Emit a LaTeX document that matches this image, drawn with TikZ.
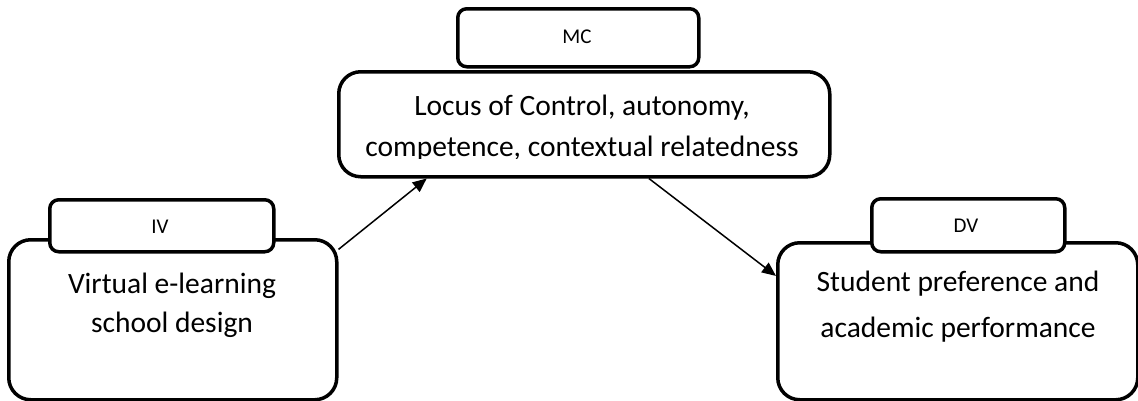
\documentclass[tikz,border=0pt]{standalone}
\usepackage{fontspec}
\setmainfont{Carlito}
\usetikzlibrary{arrows.meta}
\begin{document}
\begin{tikzpicture}[x=1pt,y=-1pt,
  bigbox/.style={draw=black,line width=3.5pt,rounded corners=22pt,fill=white,inner sep=0pt,anchor=north west},
  tagbox/.style={draw=black,line width=3.5pt,rounded corners=9pt,fill=white,inner sep=0pt,anchor=north west},
  maintext/.style={font=\fontsize{29.5}{35}\selectfont,anchor=base,inner sep=0pt},
  tagtext/.style={font=\fontsize{21}{25}\selectfont,anchor=base,inner sep=0pt},
  link/.style={line width=1.5pt,-{Triangle[length=14pt,width=12pt]}}]
\useasboundingbox (0,0) rectangle (1138,400);
% IV
\node[bigbox,minimum width=328pt,minimum height=160pt] (iv) at (7,238) {};
\node[tagbox,minimum width=224pt,minimum height=52pt] (ivtag) at (48,198) {};
\node[tagtext] (ivlab) at (160,233) {IV};
\node[maintext] (ivt1) at (172,293) {Virtual e-learning};
\node[maintext] (ivt2) at (172,332) {school design};
% MC
\node[bigbox,minimum width=491pt,minimum height=105pt] (mc) at (337,70) {};
\node[tagbox,minimum width=241pt,minimum height=58pt] (mctag) at (456,7) {};
\node[tagtext] (mclab) at (577,43) {MC};
\node[maintext] (mct1) at (582,115) {Locus of Control, autonomy,};
\begin{scope}
\clip (340,120) rectangle (825,158);
\node[maintext] (mct2) at (582,156) {competence, contextual relatedness};
\end{scope}
% DV
\node[bigbox,minimum width=360pt,minimum height=157pt] (dv) at (776,241) {};
\node[tagbox,minimum width=193pt,minimum height=53pt] (dvtag) at (870,197) {};
\node[tagtext] (dvlab) at (966,232) {DV};
\node[maintext] (dvt1) at (958,291) {Student preference and};
\node[maintext] (dvt2) at (958,337) {academic performance};
% arrows
\draw[link] (iv.23.6) -- (mc.199.8);
\draw[link] (mc.-40.9) -- (dv.166.8);
\end{tikzpicture}
\end{document}
